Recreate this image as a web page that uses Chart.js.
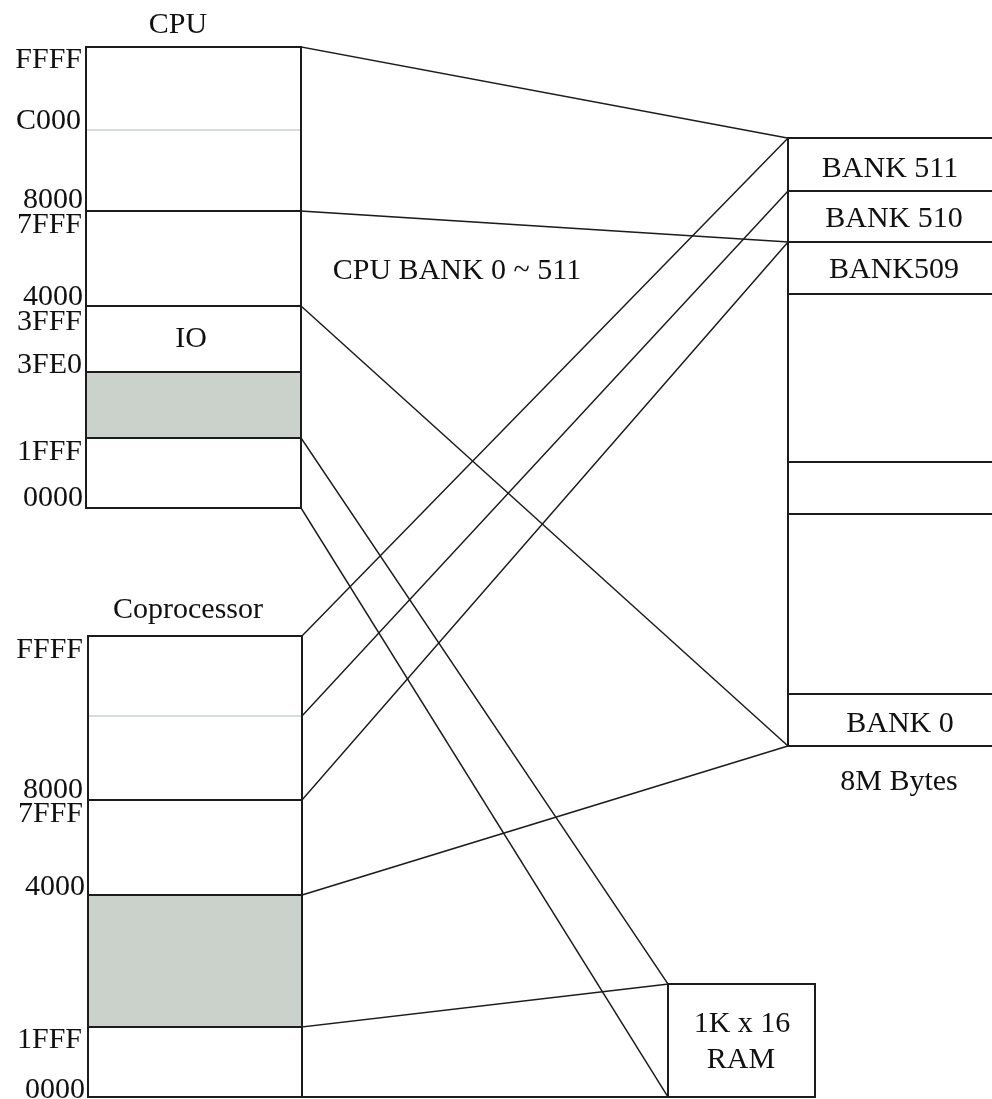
<!DOCTYPE html>
<html><head><meta charset="utf-8">
<script src="https://cdn.jsdelivr.net/npm/chart.js@4"></script>
<style>html,body{margin:0;padding:0;background:#fff;overflow:hidden}#wrap{width:992px;height:1099px}</style>
</head><body><div id="wrap"><canvas id="c" width="992" height="1099"></canvas></div>
<script>
// ---- Diagram data (diagram units on the chart's x / y scales) ----
// CPU address map: region edges, top to bottom
const cpuEdgeAddr = ['FFFF', 'C000', '8000', '4000', '3FE0', '1FFF', '0000'];
const cpuEdgeRow  = [47, 130, 211, 306, 372, 438, 508];
const cpuSpan     = [86, 301];
// Coprocessor address map
const copEdgeAddr = ['FFFF', 'C000', '8000', '4000', '1FFF', '0000'];
const copEdgeRow  = [636, 716, 800, 895, 1027, 1097];
const copSpan     = [88, 302];
// 8M bytes bank memory
const bankEdgeRow = [138, 191, 242, 294, 462, 514, 694, 746];
const bankSpan    = [788, 992];
// 1K x 16 RAM
const ramRows = [984, 1097];
const ramSpan = [668, 815];
// faint (non-boundary) divisions
const faintAddr = ['C000'];
// shaded regions [fromAddr, toAddr]
const cpuShaded = ['3FE0', '1FFF'];
const copShaded = ['4000', '1FFF'];

// mappings: source edge -> target point
const cpuLinkAddr = ['FFFF', '8000', '4000', '1FFF', '0000'];
const cpuLinkTo   = [['bank', 0], ['bank', 2], ['bank', 7], ['ram', 0], ['ram', 1]];
const copLinkAddr = ['FFFF', 'C000', '8000', '4000', '1FFF', '0000'];
const copLinkTo   = [['bank', 0], ['bank', 1], ['bank', 2], ['bank', 7], ['ram', 0], ['ram', 1]];

// text labels
const addrText  = ['FFFF', 'C000', '8000', '7FFF', '4000', '3FFF', '3FE0', '1FFF', '0000',
                   'FFFF', '8000', '7FFF', '4000', '1FFF', '0000'];
const addrRow   = [68, 129, 208, 233, 305, 330, 373, 460, 506,
                   658, 798, 822, 895, 1048, 1098];
const addrRight = [82, 81, 83, 82, 83, 82, 82, 82, 83,
                   83, 83, 83, 85, 82, 85];
const titleText = ['CPU', 'IO', 'Coprocessor', 'BANK 511', 'BANK 510', 'BANK509', 'BANK 0',
                   '8M Bytes', '1K x 16', 'RAM', 'CPU BANK 0 ~ 511'];
const titleX    = [178, 191, 188, 890, 894, 894, 900, 899, 742, 741, 457];
const titleRow  = [33, 347, 618, 177, 227, 278, 732, 790, 1032, 1068, 279];

// ---- build datasets ----
const INK = '#1c1c1c';
const FAINT = '#c9d1c9';
const SHADE = '#cad2cb';
const datasets = [];
function seg(pts, color, width) {
  datasets.push({ data: pts.map(p => ({ x: p[0], y: p[1] })), showLine: true, fill: false,
    borderColor: color, borderWidth: width, pointRadius: 0, tension: 0,
    borderCapStyle: 'square', borderJoinStyle: 'miter' });
}
function shade(span, rowA, rowB) {
  datasets.push({ data: [{ x: span[0], y: rowA }, { x: span[1], y: rowA }], showLine: true,
    borderWidth: 0, borderColor: 'rgba(0,0,0,0)', pointRadius: 0,
    backgroundColor: SHADE, fill: { value: rowB } });
}
function mapBlock(addrs, rows, span, shaded) {
  const r = a => rows[addrs.indexOf(a)];
  shade(span, r(shaded[0]), r(shaded[1]));
  const top = rows[0], bot = rows[rows.length - 1];
  seg([[span[0], top], [span[0], bot]], INK, 2);
  seg([[span[1], top], [span[1], bot]], INK, 2);
  rows.forEach((y, i) => {
    const faint = faintAddr.includes(addrs[i]);
    seg([[span[0], y], [span[1], y]], faint ? FAINT : INK, faint ? 1.5 : 2);
  });
}
mapBlock(cpuEdgeAddr, cpuEdgeRow, cpuSpan, cpuShaded);
mapBlock(copEdgeAddr, copEdgeRow, copSpan, copShaded);
// bank block
seg([[bankSpan[0], bankEdgeRow[0]], [bankSpan[0], bankEdgeRow[bankEdgeRow.length - 1]]], INK, 2);
bankEdgeRow.forEach(y => seg([[bankSpan[0], y], [bankSpan[1], y]], INK, 2));
// RAM block
seg([[ramSpan[0], ramRows[0]], [ramSpan[1], ramRows[0]], [ramSpan[1], ramRows[1]],
     [ramSpan[0], ramRows[1]], [ramSpan[0], ramRows[0]]], INK, 2);
// links
function target(t) { return t[0] === 'bank' ? [bankSpan[0], bankEdgeRow[t[1]]] : [ramSpan[0], ramRows[t[1]]]; }
cpuLinkAddr.forEach((a, i) => seg([[cpuSpan[1], cpuEdgeRow[cpuEdgeAddr.indexOf(a)]], target(cpuLinkTo[i])], INK, 1.5));
copLinkAddr.forEach((a, i) => seg([[copSpan[1], copEdgeRow[copEdgeAddr.indexOf(a)]], target(copLinkTo[i])], INK, a === '0000' ? 2 : 1.5));

const textPlugin = {
  id: 'diagramText',
  afterDatasetsDraw(chart) {
    const { ctx, scales: { x, y } } = chart;
    ctx.save();
    ctx.fillStyle = '#111';
    ctx.font = '30px "Liberation Serif", "Times New Roman", serif';
    ctx.textBaseline = 'alphabetic';
    ctx.textAlign = 'right';
    addrText.forEach((t, i) => ctx.fillText(t, x.getPixelForValue(addrRight[i]), y.getPixelForValue(addrRow[i])));
    ctx.textAlign = 'center';
    titleText.forEach((t, i) => ctx.fillText(t, x.getPixelForValue(titleX[i]), y.getPixelForValue(titleRow[i])));
    ctx.restore();
  }
};

new Chart(document.getElementById('c'), {
  type: 'scatter',
  data: { datasets },
  options: {
    responsive: false, animation: false, events: [],
    layout: { padding: 0 },
    plugins: { legend: { display: false }, tooltip: { enabled: false }, filler: { drawTime: 'beforeDatasetsDraw' } },
    scales: {
      x: { type: 'linear', min: 0, max: 992, display: false },
      y: { type: 'linear', min: 0, max: 1099, reverse: true, display: false }
    }
  },
  plugins: [textPlugin]
});
</script></body></html>
